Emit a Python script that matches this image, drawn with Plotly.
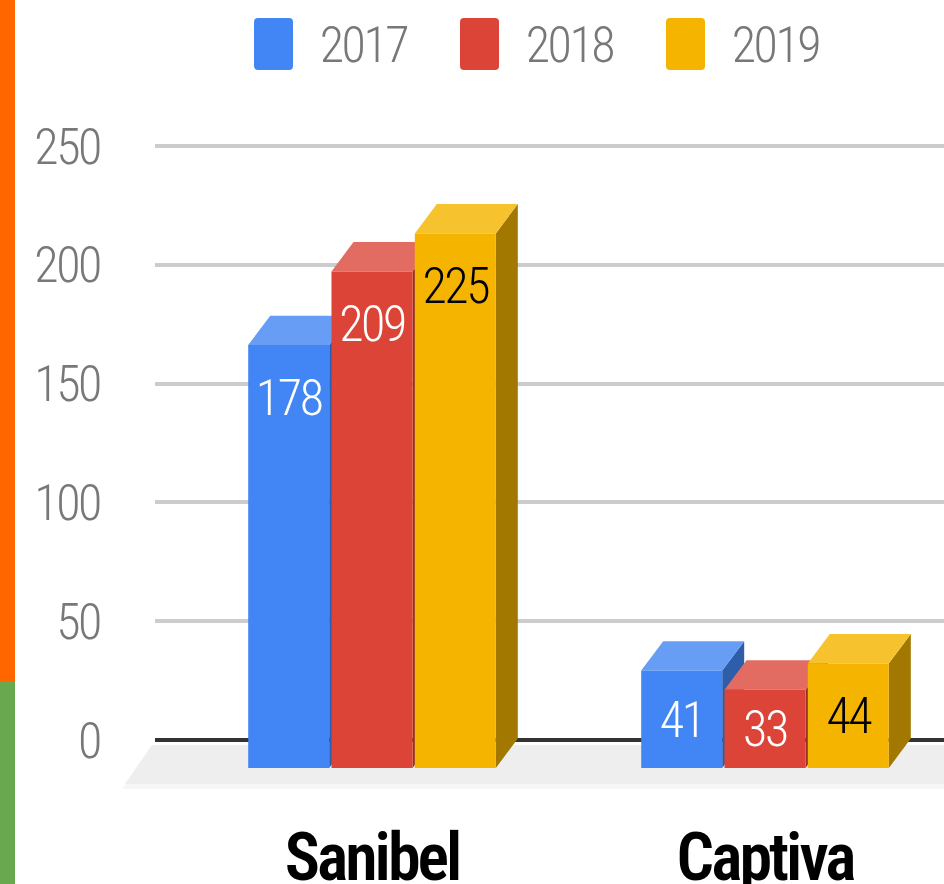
import plotly.graph_objects as go

categories = ["Sanibel", "Captiva"]
years = ["2017", "2018", "2019"]
values_2017 = [178, 41]
values_2018 = [209, 33]
values_2019 = [225, 44]
tick_values = [0, 50, 100, 150, 200, 250]
front_colors = ["#4285f4", "#db4437", "#f4b400"]
top_colors = ["#689df6", "#e36c62", "#f6c32e"]
side_colors = ["#2e5daa", "#992f26", "#a37800"]
label_colors = ["#ffffff", "#ffffff", "#000000"]

W, H = 944, 884
ML, MT, MB = 155, 140, 96
PX_X, PX_Y = 393.0, 2.376          # pixels per category / per unit
ZERO_PX, CENTER0_PX = 740.0, 372.0
BASE = -11.8; DEPTH_Y = 12.4; DEPTH_X = 0.056
PITCH, BAR_W = 83.3 / PX_X, 81.0 / PX_X
TEXT_FONT = "Roboto"
GRAY = "#787878"
NUM_WEIGHT = 350

xs = list(range(len(categories)))
series = [values_2017, values_2018, values_2019]
shapes, annotations, traces = [], [], []

def poly(pts, color):
    path = "M " + " L ".join(f"{x},{y}" for x, y in pts) + " Z"
    return dict(type="path", path=path, xref="x", yref="y", fillcolor=color,
                line=dict(width=0), layer="between")

lx, ly = [], []
lt, lc = [], []
for i, (name, vals) in enumerate(zip(years, series)):
    offset = (i - 1) * PITCH - BAR_W / 2
    traces.append(go.Bar(name=name, x=xs, y=vals, base=BASE, width=BAR_W, offset=offset,
                         marker=dict(color=front_colors[i], line=dict(width=0))))
    for x, v in zip(xs, vals):
        L = x + offset; R = L + BAR_W; T = BASE + v
        shapes.append(poly([(R, BASE), (R + DEPTH_X, BASE + DEPTH_Y), (R + DEPTH_X, T + DEPTH_Y), (R, T)], side_colors[i]))
        shapes.append(poly([(L, T), (L + DEPTH_X, T + DEPTH_Y), (R + DEPTH_X, T + DEPTH_Y), (R, T)], top_colors[i]))
        drop = min(57, v * PX_Y / 2 + 5) / PX_Y
        lx.append(x + (i - 1) * PITCH); ly.append(T - drop)
        lt.append(str(v)); lc.append(label_colors[i])

traces.append(go.Scatter(x=lx, y=ly, text=lt, mode="text", textposition="middle center",
                         textfont=dict(family=TEXT_FONT, size=50, color=lc, weight=NUM_WEIGHT),
                         hoverinfo="skip", showlegend=False))

def pap(xp, yp):
    return (xp - ML) / (W - ML), 1 - (yp - MT) / (H - MT - MB)

def pap_path(points):
    return "M " + " L ".join("{},{}".format(*pap(a, b)) for a, b in points) + " Z"

# Page decoration: coloured strip and chart floor
for y0, y1, c in [(0, 681, "#ff6600"), (681, 884, "#6aa84f")]:
    a0, b0 = pap(0, y0); a1, b1 = pap(15, y1)
    shapes.append(dict(type="rect", xref="paper", yref="paper", layer="below",
                       x0=a0, x1=a1, y0=b1, y1=b0, fillcolor=c, line=dict(width=0)))

shapes.append(dict(type="path", xref="paper", yref="paper", layer="below",
                   path=pap_path([(152, 745), (944, 745), (944, 789), (122, 789)]),
                   fillcolor="#f6f6f6", line=dict(width=0)))
shapes.append(dict(type="path", xref="paper", yref="paper", layer="below",
                   path=pap_path([(152, 745), (944, 745), (944, 784), (125, 784)]),
                   fillcolor="#eeeeee", line=dict(width=0)))

# Legend swatches and labels
for name, color, sx in zip(years, front_colors, [254, 460, 666]):
    a0, b0 = pap(sx, 18); a1, b1 = pap(sx + 39, 70)
    r = 4
    ra = r / (W - ML); rb = r / (H - MT - MB)
    p = (f"M {a0+ra},{b0} L {a1-ra},{b0} Q {a1},{b0} {a1},{b0-rb} L {a1},{b1+rb} Q {a1},{b1} {a1-ra},{b1} "
         f"L {a0+ra},{b1} Q {a0},{b1} {a0},{b1+rb} L {a0},{b0-rb} Q {a0},{b0} {a0+ra},{b0} Z")
    shapes.append(dict(type="path", xref="paper", yref="paper", path=p, fillcolor=color, line=dict(width=0)))
    tx, ty = pap(sx + 109, 45)
    annotations.append(dict(text=name, xref="paper", yref="paper", x=tx, y=ty, xanchor="center", yanchor="middle",
                            showarrow=False, font=dict(family=TEXT_FONT, size=50, color=GRAY, weight=NUM_WEIGHT)))

fig = go.Figure(traces)
fig.update_layout(
    width=W, height=H, margin=dict(l=ML, r=0, t=MT, b=MB, pad=0),
    paper_bgcolor="white", plot_bgcolor="rgba(0,0,0,0)", barmode="overlay", showlegend=False,
    shapes=shapes, annotations=annotations,
    xaxis=dict(range=[(ML - CENTER0_PX) / PX_X, (W - CENTER0_PX) / PX_X], tickvals=xs, ticktext=categories,
               showgrid=False, zeroline=False, showline=False, ticks="", automargin=False,
               ticklabelstandoff=25,
               tickfont=dict(family=TEXT_FONT, size=66, color="#000000", weight=600)),
    yaxis=dict(range=[(ZERO_PX - (H - MB)) / PX_Y, (ZERO_PX - MT) / PX_Y], tickvals=tick_values,
               showgrid=True, gridcolor="#cccccc", gridwidth=4, automargin=False,
               zeroline=True, zerolinecolor="#333333", zerolinewidth=4, showline=False, ticks="",
               ticklabelstandoff=54,
               tickfont=dict(family=TEXT_FONT, size=50, color=GRAY, weight=NUM_WEIGHT)),
    font=dict(family=TEXT_FONT),
)
css = ("svg text{font-stretch:75%;letter-spacing:-2.4px}"
       "svg .xtick text{letter-spacing:-3px}")
fig.write_html("out.html", config={"displayModeBar": False},
               post_script="document.body.style.margin='0';document.body.style.overflow='hidden';"
                           "var s=document.createElement('style');s.textContent='" + css + "';document.head.appendChild(s);")
